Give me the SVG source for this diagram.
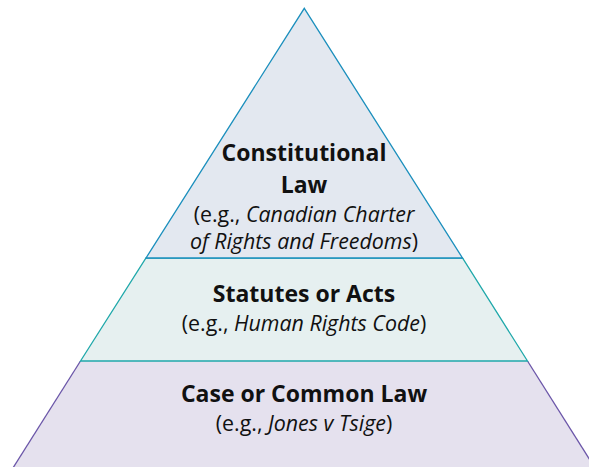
<svg xmlns="http://www.w3.org/2000/svg" width="589" height="467" viewBox="0 0 589 467">
  <style>
    .t { font-family: "Open Sans", "Noto Sans", sans-serif; text-anchor: middle; fill: #111; }
    .h { font-weight: bold; font-size: 23px; }
    .s { font-size: 21.4px; }
    .i { font-style: italic; }
    .edge { stroke-width: 1.3; fill: none; }
  </style>
  <rect width="589" height="467" fill="#ffffff"/>
  <!-- bottom tier -->
  <g id="case-law">
    <polygon points="80.5,361 527.5,361 594,467 14,467" fill="#e5e1ee"/>
    <polyline class="edge" points="12,469.5 80.5,361" stroke="#6a55a8"/>
    <polyline class="edge" points="527.5,361 596,469.5" stroke="#6a55a8"/>
    <text class="t h" x="304" y="402">Case or Common Law</text>
    <text class="t s" x="304" y="431">(e.g., <tspan class="i">Jones v Tsige</tspan>)</text>
  </g>
  <!-- middle tier -->
  <g id="statutes">
    <polygon points="146,258 462.5,258 527.5,361 80.5,361" fill="#e6f0f0" stroke="#1fa8aa" stroke-width="1.3"/>
    <text class="t h" x="304" y="302">Statutes or Acts</text>
    <text class="t s" x="304" y="331">(e.g., <tspan class="i">Human Rights Code</tspan>)</text>
  </g>
  <!-- top tier -->
  <g id="constitutional">
    <polygon points="304.3,8.3 462.5,258 146,258" fill="#e3e8f0" stroke="#1b8fbd" stroke-width="1.3"/>
    <text class="t h" x="304" y="161">Constitutional</text>
    <text class="t h" x="304" y="193">Law</text>
    <text class="t s" x="304" y="222">(e.g., <tspan class="i">Canadian Charter</tspan></text>
    <text class="t s i" x="304" y="249">of Rights and Freedoms<tspan font-style="normal">)</tspan></text>
  </g>
  <g id="connectors"/>
</svg>
